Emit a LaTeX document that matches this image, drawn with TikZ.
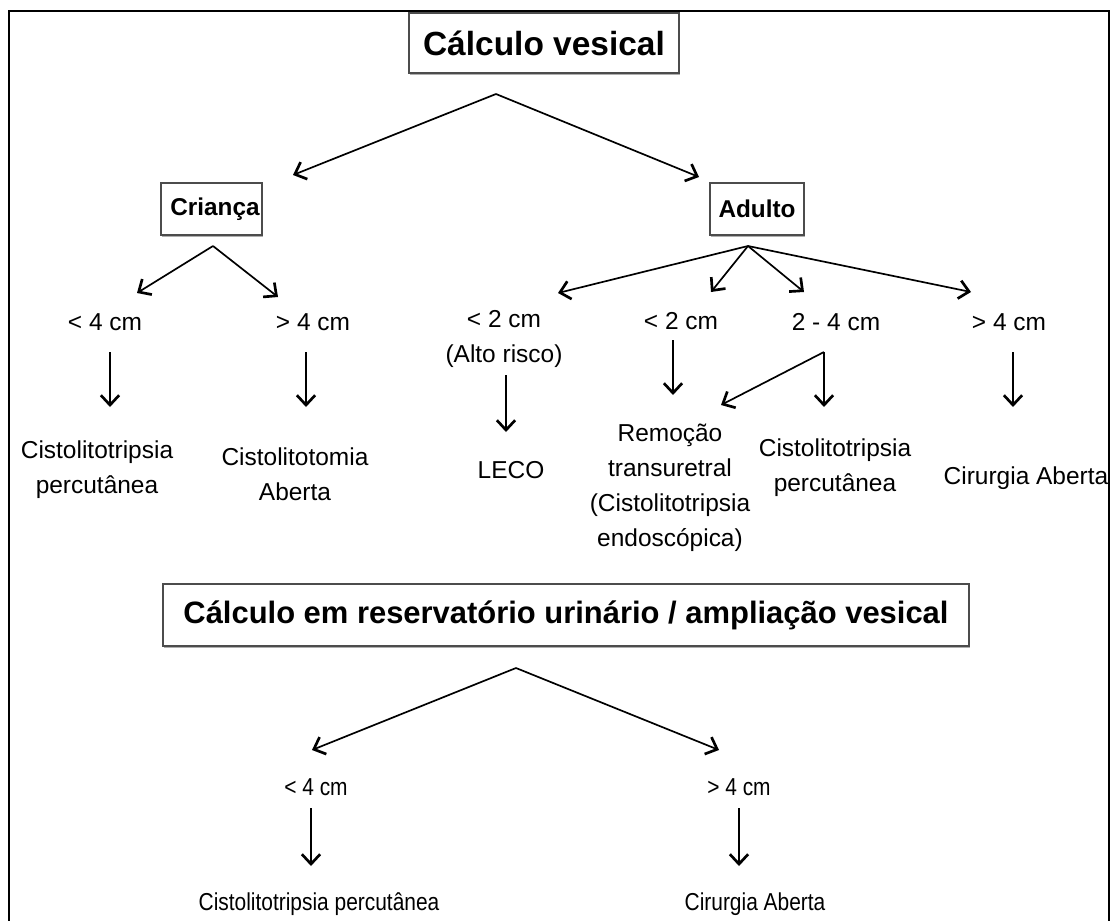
\documentclass[tikz,border=0pt]{standalone}
\usepackage{graphicx}
\usepackage{fontspec}
\setmainfont{Liberation Sans}
\usetikzlibrary{positioning, arrows.meta, calc, shadows}

% testo stretto (parte inferiore)
\newcommand{\estreito}[1]{\scalebox{0.855}[1]{#1}}

\begin{document}
\begin{tikzpicture}[
    x=0.025cm, y=-0.025cm,
    % --- stili ---
    arr/.style={line width=1.2pt, -{Straight Barb[length=7pt, width=13pt, line width=1.9pt]}},
    box/.style={draw=black!70, line width=1pt, fill=white, inner sep=0,
        drop shadow={shadow xshift=0.5pt, shadow yshift=-1.3pt, fill=black!45, opacity=0.7}},
    bigbox/.style={box, font=\fontsize{23.8}{28}\selectfont\bfseries},
    agebox/.style={box, font=\fontsize{17.3}{20}\selectfont\bfseries, minimum height=1.3cm},
    txt/.style={inner sep=0, align=center, font=\fontsize{17.4}{24.9}\selectfont},
    smalltxt/.style={inner sep=0, font=\fontsize{17.4}{20}\selectfont}
]
\useasboundingbox (0,0) rectangle (1112,921);

% 1. cornice esterna (aperta in basso)
\draw[line width=2pt] (9,921) -- (9,11) -- (1109,11) -- (1109,921);

% 2. titoli e riquadri
\node (vesical) [bigbox, minimum width=6.75cm, minimum height=1.5cm] at (544,43) {Cálculo vesical};
\node (crianca) [agebox, minimum width=2.525cm] at (211.5,209) {\hspace{5pt}Criança};
\node (adulto) [agebox, minimum width=2.35cm] at (757,209) {Adulto};

% 3. criança
\node (c_menor4) [txt] at (105,322) {< 4 cm};
\node (c_maior4) [txt] at (313,322) {> 4 cm};
\node (c_perc) [txt] at (97,470) {Cistolitotripsia\\percutânea};
\node (c_aberta) [txt] at (295,474) {Cistolitotomia\\Aberta};

% 4. adulto
\node (a_risco) [txt] at (504,338.5) {< 2 cm\\(Alto risco)};
\node (a_menor2) [txt] at (681,321) {< 2 cm};
\node (a_2a4) [txt] at (836,322) {2 - 4 cm};
\node (a_maior4) [txt] at (1009,322) {> 4 cm};
\node (a_leco) [txt] at (511,470) {LECO};
\node (a_remocao) [txt] at (670,488) {Remoção\\transuretral\\(Cistolitotripsia\\endoscópica)};
\node (a_perc) [txt] at (835,468) {Cistolitotripsia\\percutânea};
\node (a_cirurgia) [txt] at (1026,478) {Cirurgia Aberta};

% 5. reservatório
\node (reserv) [box, font=\fontsize{22}{26}\selectfont\bfseries, minimum width=20.15cm, minimum height=1.55cm] at (566,615) {Cálculo em reservatório urinário / ampliação vesical};
\node (r_menor4) [smalltxt] at (316,787) {\estreito{< 4 cm}};
\node (r_maior4) [smalltxt] at (739,787) {\estreito{> 4 cm}};
\node (r_perc) [smalltxt] at (319,904) {\estreito{Cistolitotripsia percutânea}};
\node (r_cirurgia) [smalltxt] at (755,904) {\estreito{Cirurgia Aberta}};

% 6. punti di biforcazione
\coordinate (fv) at (496,94);
\coordinate (fv_c) at (293,175);
\coordinate (fv_a) at (699,177);
\coordinate (fc) at (213,246);
\coordinate (fc_1) at (137,293);
\coordinate (fc_2) at (278,297);
\coordinate (fa) at (748,246);
\coordinate (fa_1) at (558,293);
\coordinate (fa_2) at (711,292);
\coordinate (fa_3) at (804,292);
\coordinate (fa_4) at (971,292);
\coordinate (fm) at ($(a_2a4)+(-12,30)$);
\coordinate (fm_1) at (721,405);
\coordinate (fr) at (516,668);
\coordinate (fr_1) at (312,750);
\coordinate (fr_2) at (719,750);

% 7. frecce oblique
\draw[arr] (fv) -- (fv_c);
\draw[arr] (fv) -- (fv_a);
\draw[arr] (fc) -- (fc_1);
\draw[arr] (fc) -- (fc_2);
\draw[arr] (fa) -- (fa_1);
\draw[arr] (fa) -- (fa_2);
\draw[arr] (fa) -- (fa_3);
\draw[arr] (fa) -- (fa_4);
\draw[arr] (fm) -- (fm_1);
\draw[arr] (fr) -- (fr_1);
\draw[arr] (fr) -- (fr_2);

% 8. frecce verticali
\draw[arr] ($(c_menor4)+(5,30)$) -- ($(c_menor4 |- c_perc)+(5,-63)$);
\draw[arr] ($(c_maior4)+(-7,30)$) -- ($(c_maior4 |- c_aberta)+(-7,-67)$);
\draw[arr] ($(a_risco)+(2,36.5)$) -- ($(a_risco |- a_leco)+(2,-38)$);
\draw[arr] ($(a_menor2)+(-8,19)$) -- ($(a_menor2 |- a_remocao)+(-8,-93)$);
\draw[arr] (fm) -- ($(fm |- a_perc)+(0,-61)$);
\draw[arr] ($(a_maior4)+(4,30)$) -- ($(a_maior4 |- a_cirurgia)+(4,-71)$);
\draw[arr] ($(r_menor4)+(-5,21)$) -- ($(r_menor4 |- r_perc)+(-5,-38)$);
\draw[arr] ($(r_maior4)+(0,21)$) -- ($(r_maior4 |- r_cirurgia)+(0,-38)$);
\end{tikzpicture}
\end{document}
